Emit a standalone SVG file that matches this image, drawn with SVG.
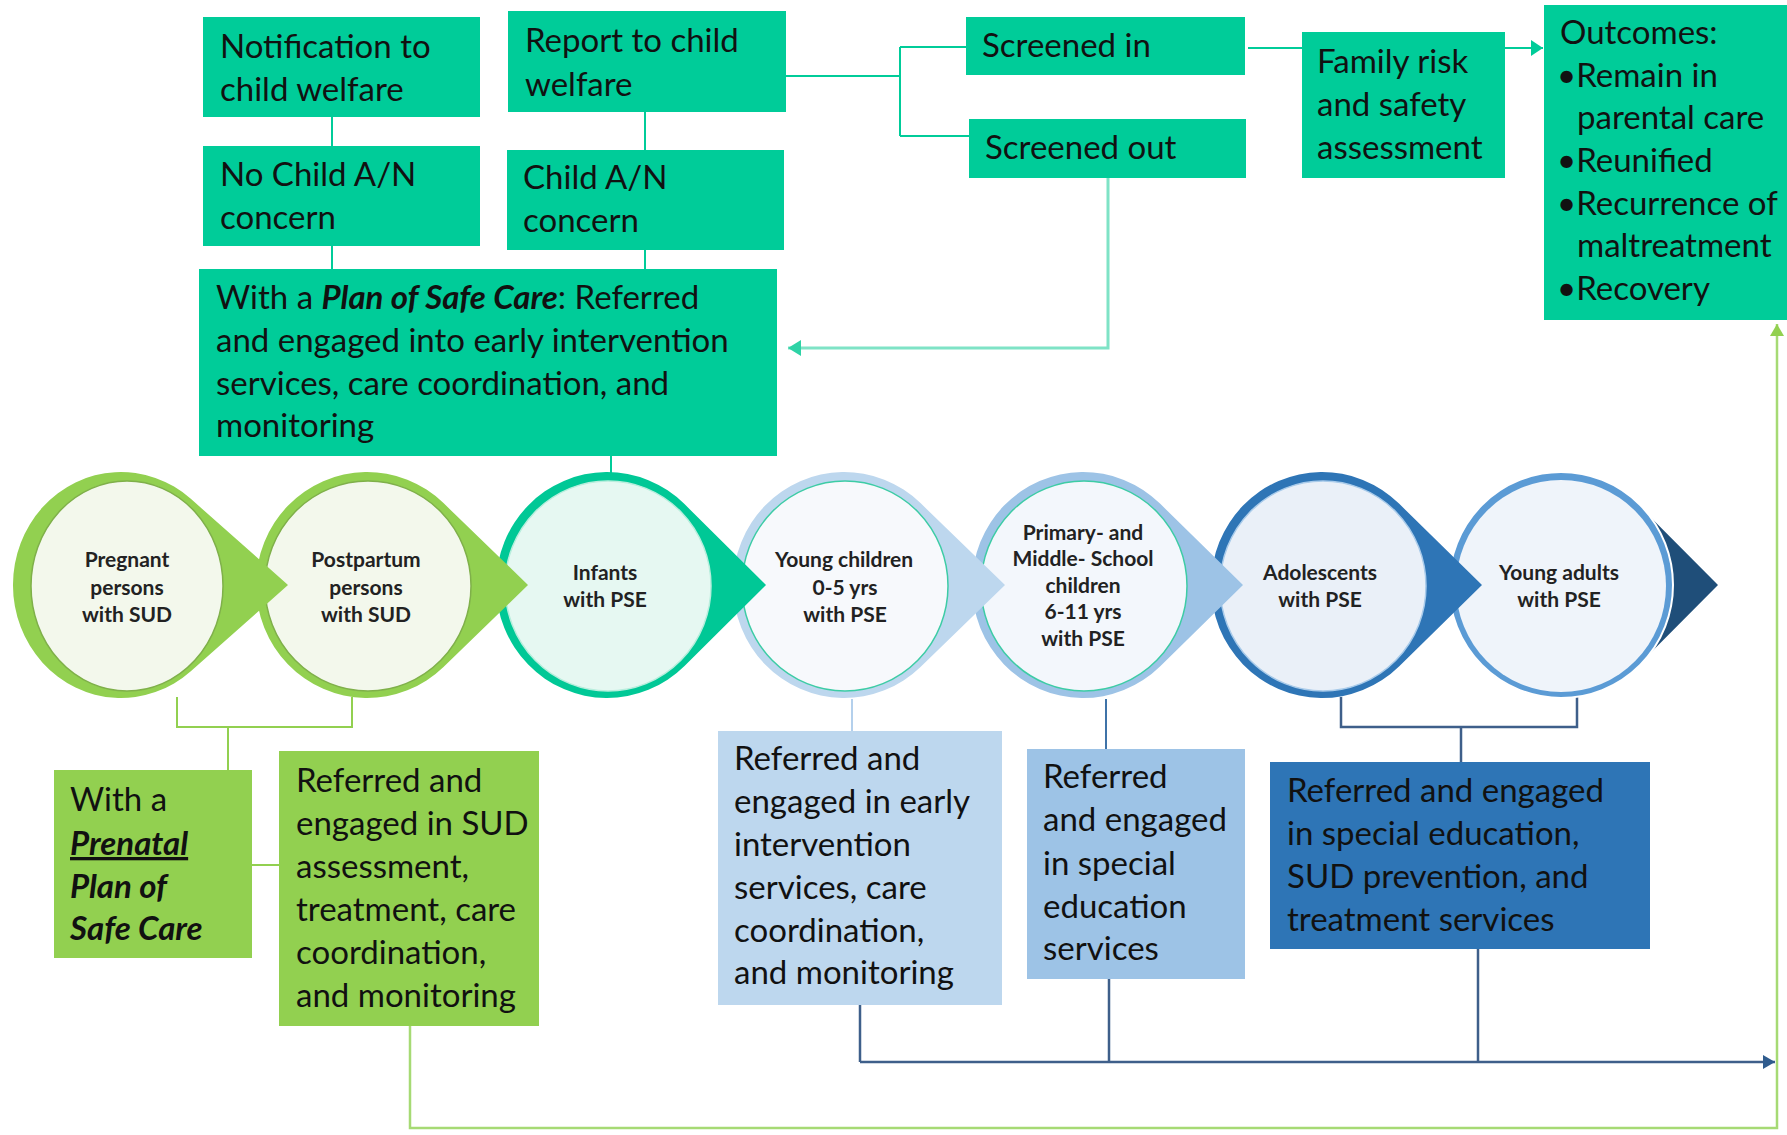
<svg xmlns="http://www.w3.org/2000/svg" width="1787" height="1135" viewBox="0 0 1787 1135">
<defs>
<style>
.t{font-family:Lato,'Open Sans','Liberation Sans',sans-serif;font-size:33px;fill:#111}
.bi{font-weight:bold;font-style:italic}
.c{font-family:Lato,'Open Sans','Liberation Sans',sans-serif;font-weight:bold;font-size:21px;fill:#222;text-anchor:middle}
.teal{fill:#00CC99}
.green{fill:#92D050}
.lteal{stroke:#00CC99;stroke-width:2;fill:none}
.lteal2{stroke:#7FE3C6;stroke-width:3;fill:none}
.lgreen{stroke:#92D050;stroke-width:2;fill:none}
.lgreen2{stroke:#A6DA74;stroke-width:2.5;fill:none}
.lblue1{stroke:#B4D0EC;stroke-width:2;fill:none}
.lblue2{stroke:#3F73A8;stroke-width:2;fill:none}
.lblue3{stroke:#3E5F8A;stroke-width:2.5;fill:none}
</style>
<marker id="aTeal" markerUnits="userSpaceOnUse" markerWidth="14" markerHeight="16" refX="12" refY="8" orient="auto"><path d="M0,0 L12,8 L0,16 Z" fill="#00CC99"/></marker>
<marker id="aLTeal" markerUnits="userSpaceOnUse" markerWidth="14" markerHeight="16" refX="13" refY="8" orient="auto"><path d="M0,0 L13,8 L0,16 Z" fill="#2ED3A6"/></marker>
<marker id="aBlue" markerUnits="userSpaceOnUse" markerWidth="14" markerHeight="16" refX="12" refY="7" orient="auto"><path d="M0,0 L12,7 L0,14 Z" fill="#2F5C8E"/></marker>
<marker id="aGreen" markerUnits="userSpaceOnUse" markerWidth="14" markerHeight="16" refX="12" refY="7" orient="auto"><path d="M0,0 L12,7 L0,14 Z" fill="#92D050"/></marker>
</defs>
<rect width="1787" height="1135" fill="#fff"/>

<g id="connectors">
<path class="lteal" d="M332,117 V146 M332,246 V269 M645,112 V150 M645,250 V269"/>
<path class="lteal" d="M786,76 H900 M900,47 V136 M900,47 H966 M900,136 H969"/>
<path class="lteal" d="M1248,48 H1302"/>
<path class="lteal" d="M1505,48 H1543" marker-end="url(#aTeal)"/>
<path class="lteal2" d="M1108,178 V348 H788" marker-end="url(#aLTeal)"/>
<path class="lteal" d="M611,456 V476"/>
<path class="lgreen" d="M177,697 V727 H352 V697 M228,727 V770 M252,865 H279"/>
<path class="lgreen2" d="M410,1026 V1128 H1777 V324" marker-end="url(#aGreen)"/>
<path class="lblue1" d="M852,699 V731"/>
<path class="lblue2" d="M1106,699 V749"/>
<path class="lblue3" d="M1341,697 V727 H1577 V697 M1461,727 V762"/>
<path class="lblue3" d="M860,1005 V1062 M1109,979 V1062 M1478,949 V1062 M860,1062 H1775" marker-end="url(#aBlue)"/>
</g>

<g id="node-notification">
<rect class="teal" x="203" y="17" width="277" height="100"/>
<text class="t" x="220" y="58">Notification to</text>
<text class="t" x="220" y="101">child welfare</text>
</g>
<g id="node-report">
<rect class="teal" x="508" y="11" width="278" height="101"/>
<text class="t" x="525" y="52">Report to child</text>
<text class="t" x="525" y="96">welfare</text>
</g>
<g id="node-no-concern">
<rect class="teal" x="203" y="146" width="277" height="100"/>
<text class="t" x="220" y="186">No Child A/N</text>
<text class="t" x="220" y="229">concern</text>
</g>
<g id="node-concern">
<rect class="teal" x="507" y="150" width="277" height="100"/>
<text class="t" x="523" y="189">Child A/N</text>
<text class="t" x="523" y="232">concern</text>
</g>
<g id="node-plan-safe-care">
<rect class="teal" x="199" y="269" width="578" height="187"/>
<text class="t" x="216" y="309">With a <tspan class="bi">Plan of Safe Care</tspan>: Referred</text>
<text class="t" x="216" y="352">and engaged into early intervention</text>
<text class="t" x="216" y="395">services, care coordination, and</text>
<text class="t" x="216" y="437">monitoring</text>
</g>
<g id="node-screened-in">
<rect class="teal" x="966" y="17" width="279" height="58"/>
<text class="t" x="982" y="57">Screened in</text>
</g>
<g id="node-screened-out">
<rect class="teal" x="969" y="119" width="277" height="59"/>
<text class="t" x="985" y="159">Screened out</text>
</g>
<g id="node-family-risk">
<rect class="teal" x="1302" y="32" width="203" height="146"/>
<text class="t" x="1317" y="73">Family risk</text>
<text class="t" x="1317" y="116">and safety</text>
<text class="t" x="1317" y="159">assessment</text>
</g>
<g id="node-outcomes">
<rect class="teal" x="1544" y="5" width="243" height="315"/>
<text class="t" x="1560" y="44">Outcomes:</text>
<text class="t" x="1557" y="87">•Remain in</text>
<text class="t" x="1577" y="129">parental care</text>
<text class="t" x="1557" y="172">•Reunified</text>
<text class="t" x="1557" y="215">•Recurrence of</text>
<text class="t" x="1577" y="257">maltreatment</text>
<text class="t" x="1557" y="300">•Recovery</text>
</g>

<g id="node-young-adults">
<path d="M1638,504.6 L1718,585 L1638,665.4 A111 113 0 1 1 1638,504.6 Z" fill="#1F4E79"/>
<ellipse cx="1561" cy="585" rx="112" ry="113" fill="#5B9BD5" stroke="#fff" stroke-width="2"/>
<ellipse cx="1561" cy="586" rx="105" ry="106" fill="#EFF4FA"/>
<text class="c" x="1559" y="580">Young adults</text>
<text class="c" x="1559" y="607">with PSE</text>
</g>
<g id="node-adolescents">
<path d="M1399,503.6 L1482,585 L1399,666.4 A111 113 0 1 1 1399,503.6 Z" fill="#2E75B6"/>
<ellipse cx="1323" cy="586" rx="103" ry="105" fill="#EAF0F8" stroke="#A9CBEA" stroke-width="1.5"/>
<text class="c" x="1320" y="580">Adolescents</text>
<text class="c" x="1320" y="607">with PSE</text>
</g>
<g id="node-primary-middle">
<path d="M1160,503.6 L1243,585 L1160,666.4 A111 113 0 1 1 1160,503.6 Z" fill="#9DC3E6"/>
<ellipse cx="1084" cy="586" rx="103" ry="105" fill="#F3F7FC" stroke="#3DCCA5" stroke-width="1.5"/>
<text class="c" x="1083" y="540">Primary- and</text>
<text class="c" x="1083" y="566">Middle- School</text>
<text class="c" x="1083" y="593">children</text>
<text class="c" x="1083" y="619">6-11 yrs</text>
<text class="c" x="1083" y="646">with PSE</text>
</g>
<g id="node-young-children">
<path d="M920.5,503.1 L1005,585 L920.5,666.9 A111 113 0 1 1 920.5,503.1 Z" fill="#BDD7EE"/>
<ellipse cx="845" cy="586" rx="103" ry="105" fill="#F7F9FC" stroke="#3DCCA5" stroke-width="1.5"/>
<text class="c" x="844" y="567">Young children</text>
<text class="c" x="845" y="595">0-5 yrs</text>
<text class="c" x="845" y="622">with PSE</text>
</g>
<g id="node-infants">
<path d="M684.5,504.1 L766,585 L684.5,665.9 A111 113 0 1 1 684.5,504.1 Z" fill="#00C896"/>
<ellipse cx="608" cy="586" rx="103" ry="105" fill="#E6F8F2" stroke="#B8EEDD" stroke-width="1.5"/>
<text class="c" x="605" y="580">Infants</text>
<text class="c" x="605" y="607">with PSE</text>
</g>
<g id="node-postpartum">
<path d="M443.5,503.1 L528,585 L443.5,666.9 A111 113 0 1 1 443.5,503.1 Z" fill="#92D050"/>
<ellipse cx="368" cy="586" rx="103" ry="105" fill="#F3F8EC" stroke="#7FB04A" stroke-width="1.5"/>
<text class="c" x="366" y="567">Postpartum</text>
<text class="c" x="366" y="595">persons</text>
<text class="c" x="366" y="622">with SUD</text>
</g>
<g id="node-pregnant">
<path d="M190.8,498.8 L288,585 L190.8,671.2 A108 113 0 1 1 190.8,498.8 Z" fill="#92D050"/>
<ellipse cx="127" cy="586" rx="96" ry="105" fill="#F3F8EC" stroke="#7FB04A" stroke-width="1.5"/>
<text class="c" x="127" y="567">Pregnant</text>
<text class="c" x="127" y="595">persons</text>
<text class="c" x="127" y="622">with SUD</text>
</g>

<g id="node-prenatal-plan">
<rect class="green" x="54" y="770" width="198" height="188"/>
<text class="t" x="70" y="811">With a</text>
<text class="t bi" x="70" y="855" text-decoration="underline">Prenatal</text>
<text class="t bi" x="70" y="898">Plan of</text>
<text class="t bi" x="70" y="940">Safe Care</text>
</g>
<g id="node-sud-services">
<rect class="green" x="279" y="751" width="260" height="275"/>
<text class="t" x="296" y="792">Referred and</text>
<text class="t" x="296" y="835">engaged in SUD</text>
<text class="t" x="296" y="878">assessment,</text>
<text class="t" x="296" y="921">treatment, care</text>
<text class="t" x="296" y="964">coordination,</text>
<text class="t" x="296" y="1007">and monitoring</text>
</g>
<g id="node-early-intervention">
<rect x="718" y="731" width="284" height="274" fill="#BDD7EE"/>
<text class="t" x="734" y="770">Referred and</text>
<text class="t" x="734" y="813">engaged in early</text>
<text class="t" x="734" y="856">intervention</text>
<text class="t" x="734" y="899">services, care</text>
<text class="t" x="734" y="942">coordination,</text>
<text class="t" x="734" y="984">and monitoring</text>
</g>
<g id="node-special-education">
<rect x="1027" y="749" width="218" height="230" fill="#9DC3E6"/>
<text class="t" x="1043" y="788">Referred</text>
<text class="t" x="1043" y="831">and engaged</text>
<text class="t" x="1043" y="875">in special</text>
<text class="t" x="1043" y="918">education</text>
<text class="t" x="1043" y="960">services</text>
</g>
<g id="node-sud-prevention">
<rect x="1270" y="762" width="380" height="187" fill="#2E75B6"/>
<text class="t" x="1287" y="802">Referred and engaged</text>
<text class="t" x="1287" y="845">in special education,</text>
<text class="t" x="1287" y="888">SUD prevention, and</text>
<text class="t" x="1287" y="931">treatment services</text>
</g>
</svg>
